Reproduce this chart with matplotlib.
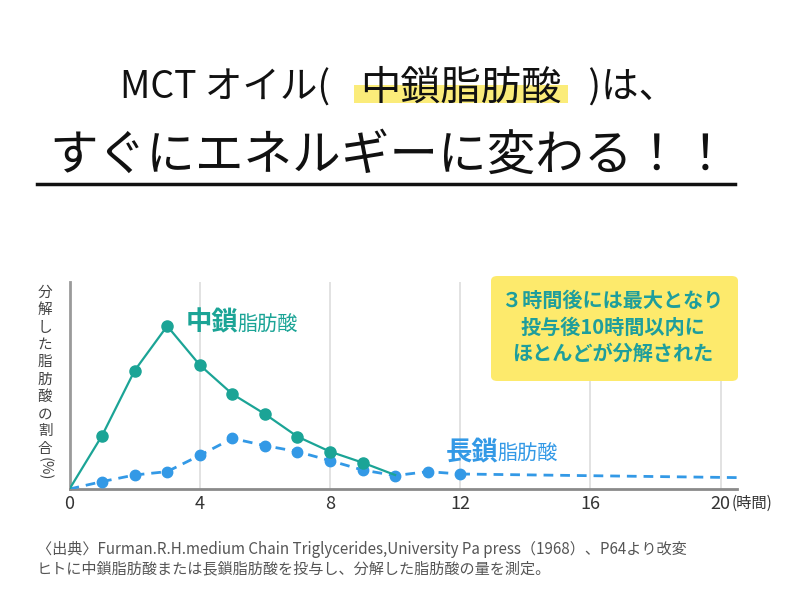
"""
MCT oil chart: fraction of fatty acid broken down over time.
"""

import matplotlib
matplotlib.use('Agg')
from matplotlib import pyplot as plt
from matplotlib.patches import FancyBboxPatch, Rectangle

plt.rcParams['font.family'] = ['Noto Sans CJK JP', 'DejaVu Sans']

# hours after intake
mct_hours = [0, 1, 2, 3, 4, 5, 6, 7, 8, 9, 10]
mct_values = [0, 26.7, 59.2, 81.5, 62.0, 47.5, 37.5, 26.2, 18.7, 13.2, 7.0]

lct_hours = [0, 1, 2, 3, 4, 5, 6, 7, 8, 9, 10, 11, 12]
lct_values = [0, 3.7, 7.0, 8.7, 16.8, 25.3, 21.7, 18.7, 14.2, 9.5, 6.7, 8.7, 7.5]

# long-chain tail beyond the last measured point
tail_hours = [12, 20.5]
tail_values = [7.5, 5.7]

xticks = [0, 4, 8, 12, 16, 20]

GREEN = '#1ba496'
BLUE = '#3399e6'
TEAL_TEXT = '#1e9e9c'
INK = '#111111'


def px(x, y):
    """Pixel position (from top left) to figure fraction."""
    return x / 800, 1 - y / 600


fig = plt.figure(figsize=(8, 6), dpi=100)

# title, line 1 in three parts so the highlight sits under the middle
fig.add_artist(Rectangle(px(354, 103), 214 / 800, 18 / 600,
                         transform=fig.transFigure, color='#fbec7a', lw=0))
fig.text(*px(338, 88), 'MCT オイル( ', ha='right', va='center',
         fontsize=27, color=INK)
fig.text(*px(461, 88), '中鎖脂肪酸', ha='center', va='center',
         fontsize=29, color=INK)
fig.text(*px(580, 88), ' )は、', ha='left', va='center',
         fontsize=27, color=INK)
fig.text(*px(390, 156), 'すぐにエネルギーに変わる！！', ha='center',
         va='center', fontsize=35, color=INK)
fig.add_artist(plt.Line2D([37 / 800, 735 / 800], [1 - 184 / 600] * 2,
                          transform=fig.transFigure, color=INK, lw=2.5))

# chart
ax = fig.add_axes([69.5 / 800, 1 - 489 / 600, (737 - 69.5) / 800, 207 / 600])
ax.set_xlim(0, 20.5)
ax.set_ylim(0, 103.5)

for x in xticks[1:]:
    ax.axvline(x, color='#dddddd', lw=1.2, zorder=0)

ax.plot(tail_hours, tail_values, color=BLUE, lw=2, ls=(0, (3.5, 2.5)),
        zorder=2)
ax.plot(lct_hours, lct_values, color=BLUE, lw=2, ls=(0, (3.5, 2.5)),
        marker='o', ms=7.5, markevery=list(range(1, len(lct_hours))),
        zorder=3)
ax.plot(mct_hours, mct_values, color=GREEN, lw=1.6, marker='o', ms=8,
        markevery=list(range(1, len(mct_hours) - 1)), zorder=4)

for side in ('top', 'right'):
    ax.spines[side].set_visible(False)
ax.spines['left'].set_color('#9a9a9a')
ax.spines['left'].set_linewidth(2)
ax.spines['bottom'].set_color('#8a8a8a')
ax.spines['bottom'].set_linewidth(2)
ax.set_yticks([])
ax.set_xticks(xticks)
ax.set_xticklabels([str(t) for t in xticks])
ax.tick_params(axis='x', length=0, pad=4, labelsize=13, labelcolor='#333333')
fig.text(*px(732, 503), '(時間)', ha='left', va='center', fontsize=11,
         color='#333333')

# vertical y label
ylabel = '分解した脂肪酸の割合'
for i, ch in enumerate(ylabel):
    fig.text(*px(45, 293 + i * 17.3), ch, ha='center', va='center',
             fontsize=10.5, color='#444444')
fig.text(*px(45, 469), '(%)', ha='center', va='center',
         fontsize=10.5, color='#444444', rotation=270)

# series labels
fig.text(*px(186, 323), '中鎖', ha='left', va='center',
         fontsize=19, weight='bold', color=GREEN)
fig.text(*px(237, 325), '脂肪酸', ha='left', va='center',
         fontsize=14.5, color=GREEN)
fig.text(*px(446, 452), '長鎖', ha='left', va='center',
         fontsize=19, weight='bold', color=BLUE)
fig.text(*px(497, 454), '脂肪酸', ha='left', va='center',
         fontsize=14.5, color=BLUE)

# note box
fig.add_artist(FancyBboxPatch(px(491, 381), 247 / 800, 105 / 600,
                              boxstyle='round,pad=0,rounding_size=0.008',
                              transform=fig.transFigure, color='#fdea6c', lw=0))
fig.text(*px(613, 327),
         '３時間後には最大となり\n投与後10時間以内に\nほとんどが分解された',
         ha='center', va='center', fontsize=14.5, weight='bold',
         color=TEAL_TEXT, linespacing=1.3)

# source
fig.text(*px(37, 549),
         '〈出典〉Furman.R.H.medium Chain Triglycerides,University Pa press（1968）、P64より改変',
         ha='left', va='center', fontsize=10.9, color='#555555')
fig.text(*px(37, 569),
         'ヒトに中鎖脂肪酸または長鎖脂肪酸を投与し、分解した脂肪酸の量を測定。',
         ha='left', va='center', fontsize=10.9, color='#555555')

fig.savefig('out.png', dpi=100)
